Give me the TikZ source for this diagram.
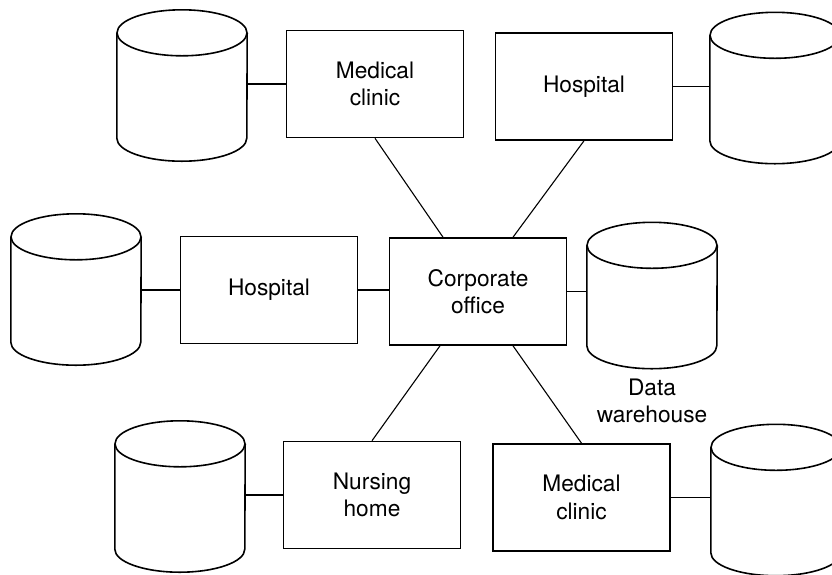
\documentclass[tikz,border=0pt]{standalone}
\usepackage{fontspec}
\setmainfont{TeX Gyre Heros}
\usetikzlibrary{positioning}

% Outline of a database drum round a named body node
\newcommand{\drawdb}[1]{%
    \draw[dbline] (#1.north west) -- (#1.south west)
        arc[start angle=180, end angle=360, x radius=65, y radius=23]
        -- (#1.north east);
    \draw[dbline] (#1.north) ellipse [x radius=65, y radius=23];
}

\begin{document}
\begin{tikzpicture}[
    x=1pt, y=1pt,
    % Boxes for the sites
    site/.style={
        draw,
        line width=1.6pt,
        minimum width=177pt,
        minimum height=107pt,
        align=center,
        font=\fontsize{22.7}{27.5}\selectfont
    },
    % Body of a database drum (outline drawn by \drawdb)
    dbase/.style={
        minimum width=130pt,
        minimum height=105pt,
        inner sep=0pt
    },
    dbline/.style={line width=1.6pt},
    % Connector style
    link/.style={line width=1.1pt}
    ]

    \useasboundingbox (0,0) rectangle (832,-574);
    \clip (0,0) rectangle (832,-574);

    % Top row
    \node[dbase] (dbA) at (182,-85.5) {};
    \node[site] (mclinA) at (375,-84) {Medical\\clinic};
    \node[site] (hospA) at (584,-86.5) {Hospital};
    \node[dbase] (dbB) at (775,-88) {};

    % Middle row
    \node[dbase] (dbC) at (76,-289.5) {};
    \node[site] (hospB) at (269,-290) {Hospital};
    \node[site] (corp) at (478,-291.5) {Corporate\\office};
    \node[dbase, minimum height=100pt] (dbD) at (652,-295.5) {};
    \node[font=\fontsize{22.7}{27.5}\selectfont, align=center, inner sep=0pt,
          below=33pt of dbD] (dwlabel) {Data\\warehouse};

    % Bottom row
    \node[dbase] (dbE) at (180,-496.5) {};
    \node[site] (nurse) at (372,-495) {Nursing\\home};
    \node[site] (mclinB) at (581.5,-497.5) {Medical\\clinic};
    \node[dbase] (dbF) at (776,-500) {};

    % Drums
    \drawdb{dbA}
    \drawdb{dbB}
    \drawdb{dbC}
    \drawdb{dbD}
    \drawdb{dbE}
    \drawdb{dbF}

    % Each site to its own database
    \draw[link] (mclinA.west) -- (mclinA.west -| dbA.east);
    \draw[link] (hospA.east) -- (hospA.east -| dbB.west);
    \draw[link] (hospB.west) -- (hospB.west -| dbC.east);
    \draw[link] (nurse.west) -- (nurse.west -| dbE.east);
    \draw[link] (mclinB.east) -- (mclinB.east -| dbF.west);

    % Corporate office links
    \draw[link] (hospB.east) -- (hospB.east -| corp.west);
    \draw[link] (corp.east) -- (corp.east -| dbD.west);
    \draw[link] (mclinA.south) -- ([xshift=-35pt]corp.north);
    \draw[link] (hospA.south) -- ([xshift=35pt]corp.north);
    \draw[link] ([xshift=-38pt]corp.south) -- (nurse.north);
    \draw[link] ([xshift=35pt]corp.south) -- (mclinB.north);

\end{tikzpicture}
\end{document}
